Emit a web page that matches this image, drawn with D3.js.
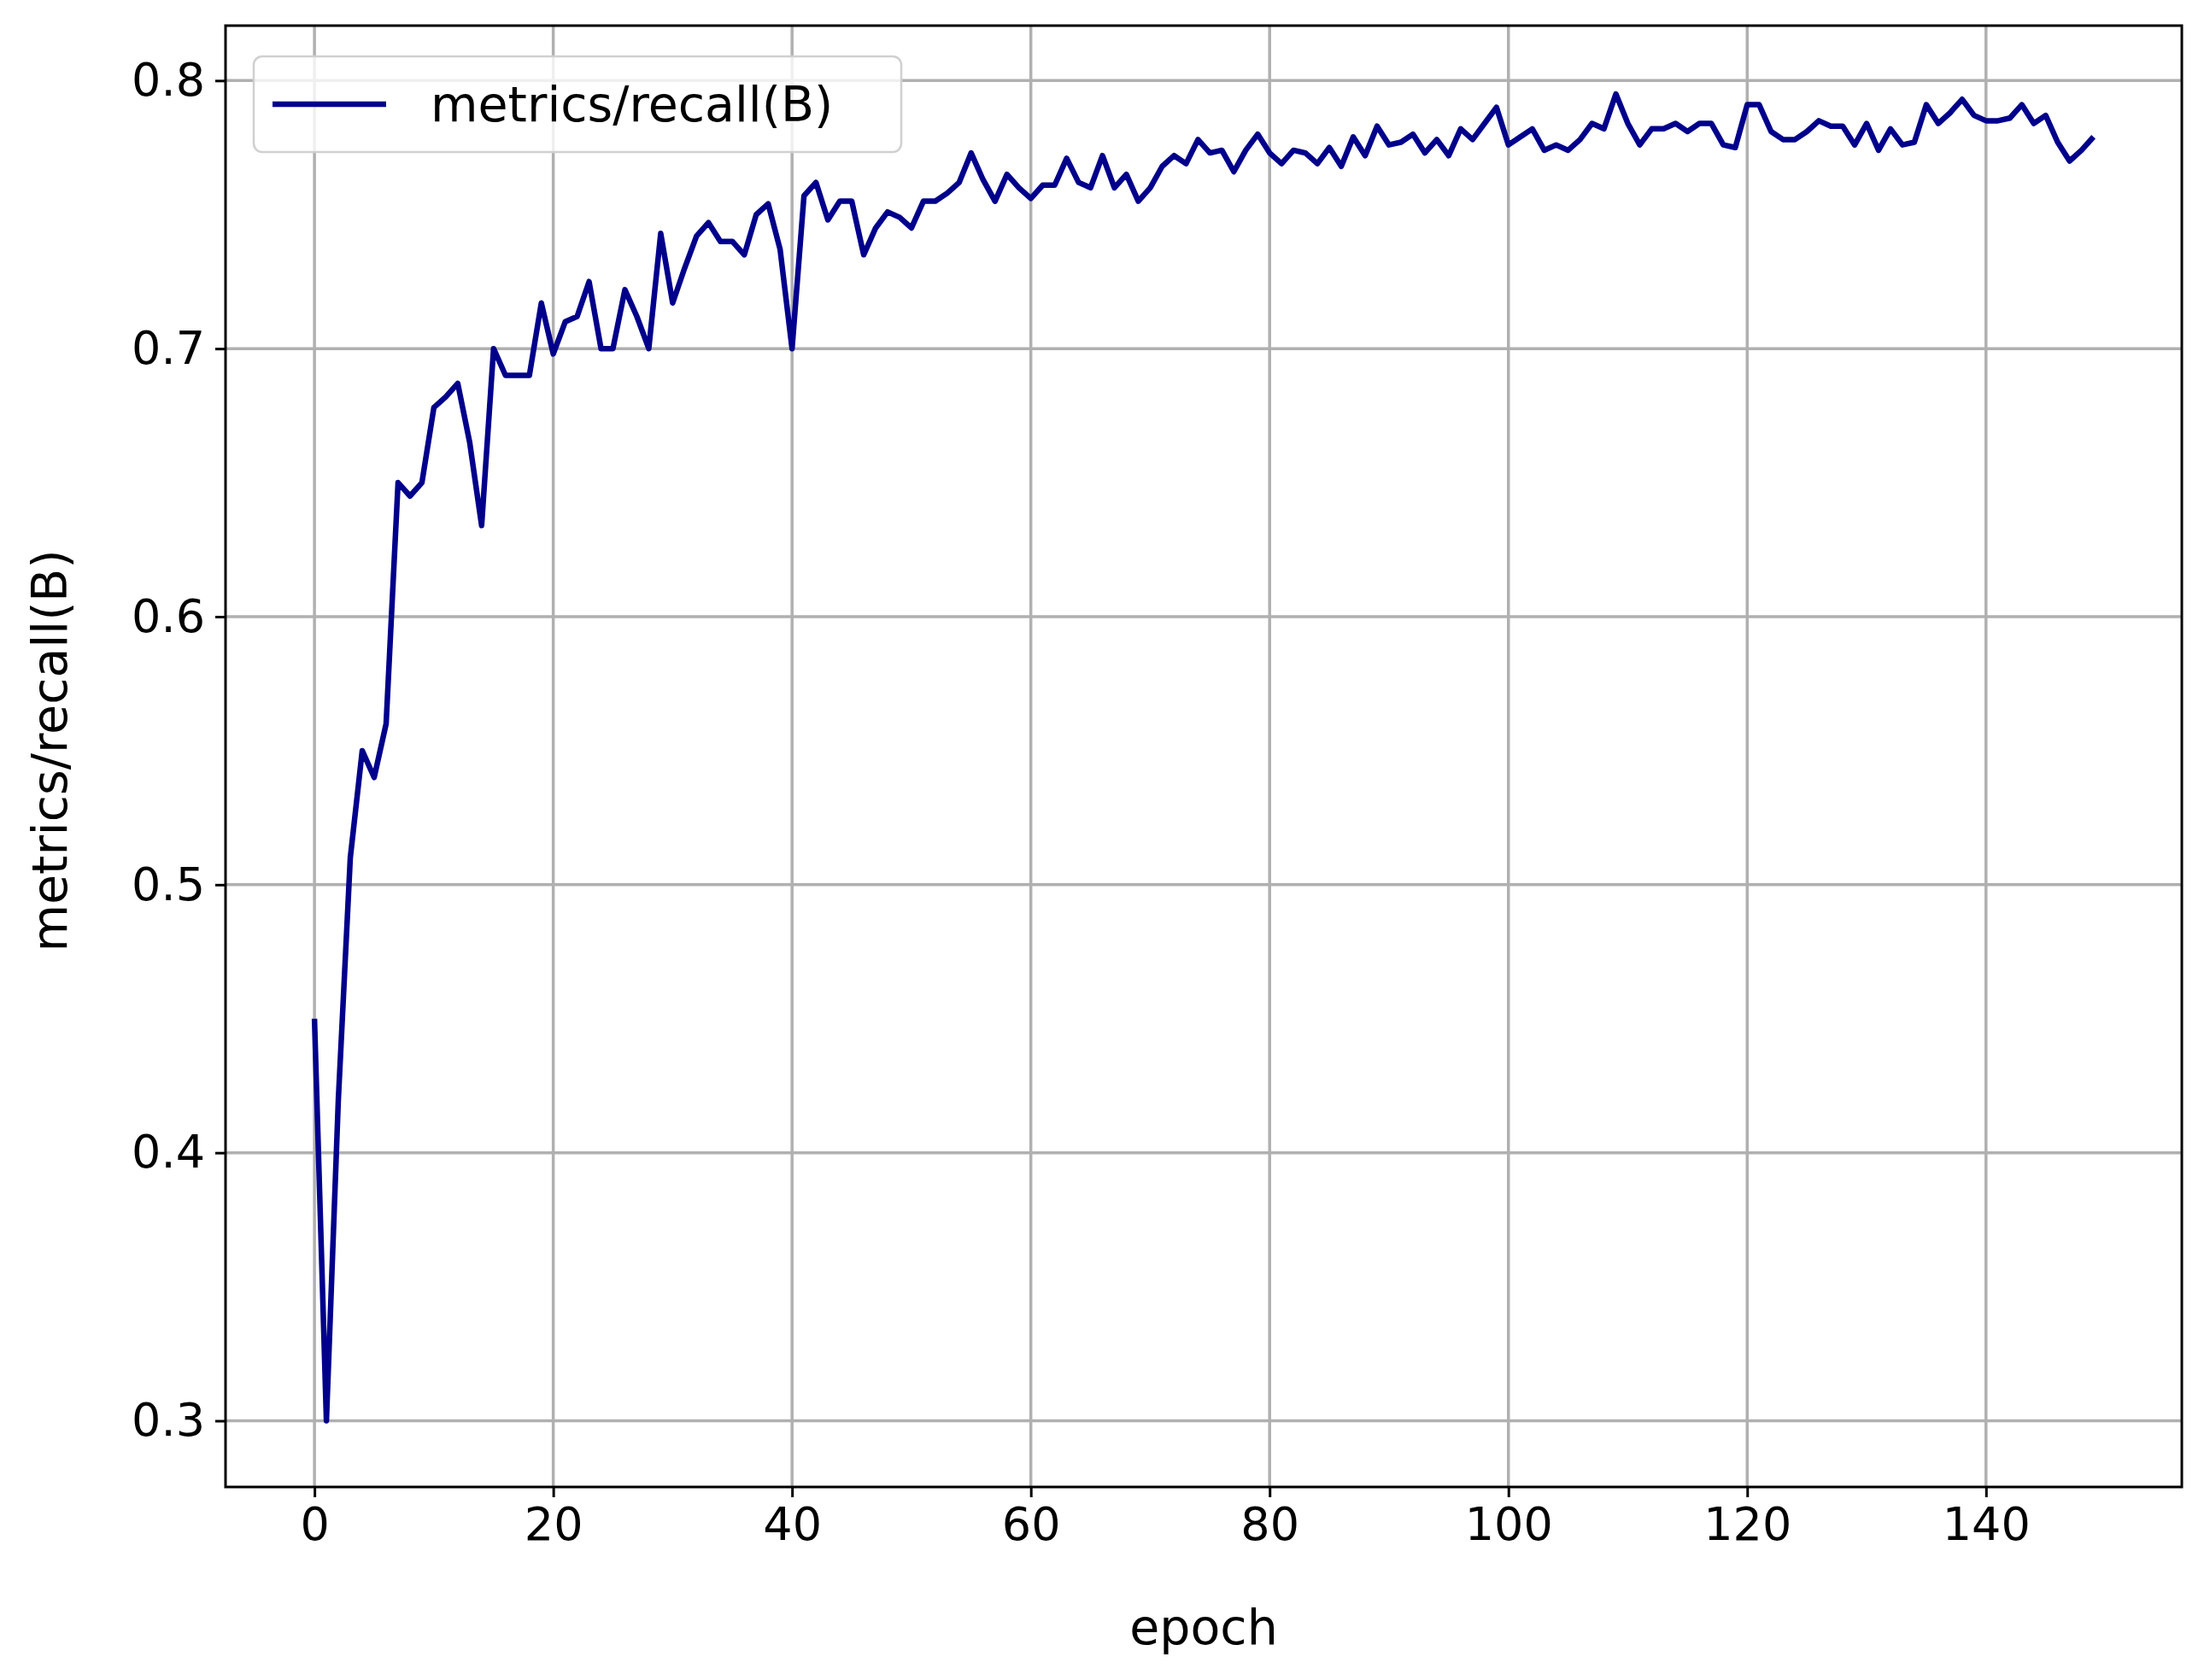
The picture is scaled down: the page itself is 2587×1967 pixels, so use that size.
<!DOCTYPE html>
<html>
<head>
<meta charset="utf-8">
<script src="https://cdn.jsdelivr.net/npm/d3@7"></script>
<style>
  body { margin: 0; background: #fff; }
  text { font-family: "DejaVu Sans", sans-serif; }
</style>
</head>
<body>
<svg id="chart"></svg>
<script>
const width = 2587;
const height = 1967;
const margin = { top: 30, right: 33, bottom: 226, left: 264 };

const seriesName = "metrics/recall(B)";
const xTicks = [0, 20, 40, 60, 80, 100, 120, 140];
const yTicks = [0.3, 0.4, 0.5, 0.6, 0.7, 0.8];
const recall = [
  0.45, 0.30, 0.42, 0.51, 0.55, 0.54, 0.56, 0.65, 0.645, 0.65,
  0.678, 0.682, 0.687, 0.665, 0.634, 0.70, 0.69, 0.69, 0.69, 0.717,
  0.698, 0.71, 0.712, 0.725, 0.70, 0.70, 0.722, 0.712, 0.70, 0.743,
  0.717, 0.73, 0.742, 0.747, 0.74, 0.74, 0.735, 0.75, 0.754, 0.737,
  0.70, 0.757, 0.762, 0.748, 0.755, 0.755, 0.735, 0.745, 0.751, 0.749,
  0.745, 0.755, 0.755, 0.758, 0.762, 0.773, 0.763, 0.755, 0.765, 0.76,
  0.756, 0.761, 0.761, 0.771, 0.762, 0.76, 0.772, 0.76, 0.765, 0.755,
  0.76, 0.768, 0.772, 0.769, 0.778, 0.773, 0.774, 0.766, 0.774, 0.78,
  0.773, 0.769, 0.774, 0.773, 0.769, 0.775, 0.768, 0.779, 0.772, 0.783,
  0.776, 0.777, 0.78, 0.773, 0.778, 0.772, 0.782, 0.778, 0.784, 0.79,
  0.776, 0.779, 0.782, 0.774, 0.776, 0.774, 0.778, 0.784, 0.782, 0.795,
  0.784, 0.776, 0.782, 0.782, 0.784, 0.781, 0.784, 0.784, 0.776, 0.775,
  0.791, 0.791, 0.781, 0.778, 0.778, 0.781, 0.785, 0.783, 0.783, 0.776,
  0.784, 0.774, 0.782, 0.776, 0.777, 0.791, 0.784, 0.788, 0.793, 0.787,
  0.785, 0.785, 0.786, 0.791, 0.784, 0.787, 0.777, 0.77, 0.774, 0.779
];

const innerW = width - margin.left - margin.right;
const innerH = height - margin.top - margin.bottom;

const svg = d3.select("#chart").attr("width", width).attr("height", height);
const g = svg.append("g").attr("transform", `translate(${margin.left},${margin.top})`);

const x = d3.scaleLinear().domain([-7.45, 156.4]).range([0, innerW]);
const y = d3.scaleLinear().domain([0.2753, 0.8205]).range([innerH, 0]);

// grid lines
g.append("g").selectAll("line").data(xTicks).join("line")
  .attr("x1", d => x(d)).attr("x2", d => x(d))
  .attr("y1", 0).attr("y2", innerH)
  .attr("stroke", "#b0b0b0").attr("stroke-width", 3.5);
g.append("g").selectAll("line").data(yTicks).join("line")
  .attr("x1", 0).attr("x2", innerW)
  .attr("y1", d => y(d)).attr("y2", d => y(d))
  .attr("stroke", "#b0b0b0").attr("stroke-width", 3.5);

// axes
const xAxis = g.append("g").attr("transform", `translate(0,${innerH})`)
  .call(d3.axisBottom(x).tickValues(xTicks).tickSize(12).tickPadding(12).tickFormat(d3.format("d")));
const yAxis = g.append("g")
  .call(d3.axisLeft(y).tickValues(yTicks).tickSize(12).tickPadding(12).tickFormat(d3.format(".1f")));
[xAxis, yAxis].forEach(a => {
  a.select(".domain").remove();
  a.selectAll("line").attr("stroke", "#000").attr("stroke-width", 3);
  a.selectAll("text").attr("font-size", 54).attr("fill", "#000").style("font-family", "DejaVu Sans");
});

// frame
g.append("rect").attr("width", innerW).attr("height", innerH)
  .attr("fill", "none").attr("stroke", "#000").attr("stroke-width", 3);

// line
const line = d3.line().x((d, i) => x(i)).y(d => y(d));
g.append("path").datum(recall)
  .attr("d", line).attr("fill", "none")
  .attr("stroke", "#00008b").attr("stroke-width", 6.5).attr("stroke-linejoin", "round");

// axis labels
svg.append("text").attr("x", margin.left + innerW / 2).attr("y", 1925)
  .attr("text-anchor", "middle").attr("font-size", 57).text("epoch");
svg.append("text")
  .attr("transform", `translate(78,${margin.top + y(0.55)}) rotate(-90)`)
  .attr("text-anchor", "middle").attr("font-size", 57).text(seriesName);

// legend
const legend = g.append("g").attr("transform", "translate(33,36)");
legend.append("rect").attr("width", 758).attr("height", 112).attr("rx", 10)
  .attr("fill", "#fff").attr("fill-opacity", 0.8).attr("stroke", "#d0d0d0").attr("stroke-width", 2.5);
legend.append("line").attr("x1", 22).attr("x2", 155).attr("y1", 56).attr("y2", 56)
  .attr("stroke", "#00008b").attr("stroke-width", 6.5);
legend.append("text").attr("x", 207).attr("y", 76).attr("font-size", 57).text(seriesName);
</script>
</body>
</html>
